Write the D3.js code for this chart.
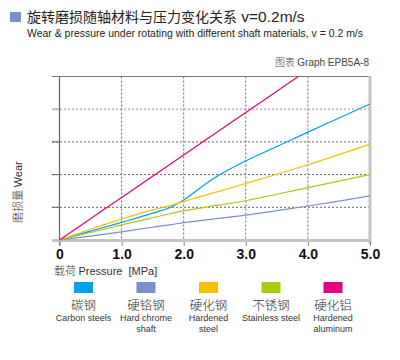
<!DOCTYPE html>
<html>
<head>
<meta charset="utf-8">
<script src="https://cdn.jsdelivr.net/npm/d3@7"></script>
<style>
  body { margin: 0; background: #fff; }
  text { font-family: Arial, "Liberation Sans", "Noto Sans CJK SC", sans-serif; }
  .cjk { font-family: "Noto Sans CJK SC", sans-serif; font-weight: 300; }
</style>
</head>
<body>
<div class="chart"></div>
<script>
// data
var pressure = [0, 0.5, 1.0, 1.5, 1.8, 2.0, 2.2, 2.5, 3.0, 3.5, 4.0, 4.5, 5.0];
var carbonSteel   = [0, 0.27, 0.54, 0.82, 1.01, 1.22, 1.50, 1.90, 2.42, 2.86, 3.30, 3.73, 4.16];
var hardChrome    = [0, 0.12, 0.25, 0.39, 0.47, 0.53, 0.58, 0.65, 0.76, 0.90, 1.04, 1.19, 1.35];
var hardenedSteel = [0, 0.33, 0.64, 0.92, 1.06, 1.18, 1.29, 1.45, 1.73, 2.01, 2.30, 2.61, 2.93];
var stainless     = [0, 0.23, 0.46, 0.68, 0.81, 0.89, 0.95, 1.05, 1.20, 1.40, 1.60, 1.80, 2.00];
var hardenedAlu   = [0, 0.65, 1.30, 1.95, 2.34, 2.60, 2.86, 3.25, 3.90, 4.55, 5.20, 5.85, 6.50];

var xTicks = [0, 1, 2, 3, 4, 5];
var xTickLabels = ["0", "1.0", "2.0", "3.0", "4.0", "5.0"];
var yTicks = [1, 2, 3, 4];

var seriesNames = ["碳钢", "硬铬钢", "硬化钢", "不锈钢", "硬化铝"];
var seriesEnglish = [["Carbon steels"], ["Hard chrome", "shaft"], ["Hardened", "steel"], ["Stainless steel"], ["Hardened", "aluminum"]];
var seriesColors = ["#00a0e9", "#7890c9", "#f8c000", "#aacc10", "#e4007f"];
var seriesValues = [carbonSteel, hardChrome, hardenedSteel, stainless, hardenedAlu];

var svg = d3.select(".chart").append("svg")
  .attr("width", 400)
  .attr("height", 360);

// titles
svg.append("rect").attr("x", 10).attr("y", 12).attr("width", 11).attr("height", 10).attr("fill", "#7b8fcc");
var title = svg.append("text").attr("x", 27).attr("y", 22).attr("fill", "#222");
title.append("tspan").attr("class", "cjk").attr("font-size", 14).style("font-weight", 400)
  .text("旋转磨损随轴材料与压力变化关系");
title.append("tspan").attr("font-size", 15.5).text(" v=0.2m/s");
svg.append("text").attr("x", 27).attr("y", 37).attr("font-size", 10.5).attr("fill", "#222")
  .attr("textLength", 336).attr("lengthAdjust", "spacingAndGlyphs")
  .text("Wear & pressure under rotating with different shaft materials, v = 0.2 m/s");
var gl = svg.append("text").attr("x", 369).attr("y", 66).attr("font-size", 10).attr("fill", "#444")
  .attr("text-anchor", "end");
gl.append("tspan").attr("class", "cjk").text("图表 ");
gl.append("tspan").text("Graph EPB5A-8");

var x = d3.scaleLinear().domain([0, 5]).range([59.5, 370]);
var y = d3.scaleLinear().domain([0, 5]).range([240, 76.5]);

var plot = svg.append("g");

// clip for lines leaving the top
svg.append("clipPath").attr("id", "clip")
  .append("rect").attr("x", 59).attr("y", 76.5).attr("width", 312).attr("height", 164);

// horizontal grid
plot.selectAll("line.hgrid").data(yTicks).enter().append("line")
  .attr("class", "hgrid")
  .attr("x1", 52).attr("x2", 370)
  .attr("y1", function(d) { return y(d); })
  .attr("y2", function(d) { return y(d); })
  .attr("stroke", function(d) { return d == 4 ? "#c4c4c4" : "#666"; })
  .attr("stroke-width", function(d) { return d == 4 ? 2 : 1; })
  .attr("stroke-dasharray", "2,2");
// little solid ticks left of axis
plot.selectAll("line.htick").data(yTicks).enter().append("line")
  .attr("x1", 52).attr("x2", 59)
  .attr("y1", function(d) { return y(d); })
  .attr("y2", function(d) { return y(d); })
  .attr("stroke", function(d) { return d == 4 ? "#c4c4c4" : "#666"; })
  .attr("stroke-width", function(d) { return d == 4 ? 2 : 1; });

// vertical grid
plot.selectAll("line.vgrid").data([1, 2, 3, 4]).enter().append("line")
  .attr("x1", function(d) { return x(d); })
  .attr("x2", function(d) { return x(d); })
  .attr("y1", 76.5).attr("y2", 240)
  .attr("stroke", "#666")
  .attr("stroke-dasharray", "2,2");

// frame
plot.append("line").attr("x1", 52).attr("x2", 370).attr("y1", 76.5).attr("y2", 76.5)
  .attr("stroke", "#777").attr("stroke-width", 1.2);
plot.append("line").attr("x1", 59.5).attr("x2", 59.5).attr("y1", 76).attr("y2", 245)
  .attr("stroke", "#666").attr("stroke-width", 1.2);
plot.append("line").attr("x1", 370).attr("x2", 370).attr("y1", 76).attr("y2", 244)
  .attr("stroke", "#c4c4c4").attr("stroke-width", 3);

// x axis
var xAxis = d3.axisBottom(x).tickValues(xTicks)
  .tickFormat(function(d, i) { return xTickLabels[i]; })
  .tickSize(5).tickPadding(3);
var gx = svg.append("g").attr("transform", "translate(0,241)").call(xAxis);
gx.select(".domain").remove();
gx.selectAll(".tick line").attr("stroke", "#888");
gx.selectAll(".tick text").attr("font-size", 14).attr("font-weight", "bold").attr("fill", "#111")
  .attr("font-family", "Arial, 'Liberation Sans', sans-serif");
svg.append("line").attr("x1", 52).attr("x2", 371).attr("y1", 240.5).attr("y2", 240.5)
  .attr("stroke", "#c4c4c4").attr("stroke-width", 3);

// lines
var line = d3.line()
  .x(function(d, i) { return x(pressure[i]); })
  .y(function(d) { return y(d); })
  .curve(d3.curveMonotoneX);

svg.append("g").attr("clip-path", "url(#clip)")
  .selectAll("path").data(seriesValues).enter().append("path")
  .attr("d", line)
  .attr("fill", "none")
  .attr("stroke", function(d, i) { return seriesColors[i]; })
  .attr("stroke-width", 1.2);

// axis labels
var yl = svg.append("text").attr("transform", "translate(22,192) rotate(-90)")
  .attr("text-anchor", "middle").attr("font-size", 11).attr("fill", "#333");
yl.append("tspan").attr("class", "cjk").text("磨损量 ");
yl.append("tspan").text("Wear");
var xl = svg.append("text").attr("x", 54).attr("y", 275).attr("font-size", 11).attr("fill", "#333")
  .style("white-space", "pre");
xl.append("tspan").attr("class", "cjk").text("载荷 ");
xl.append("tspan").text("Pressure  [MPa]");

// legend
var legendX = [83.5, 146, 208.5, 271, 333];
var lg = svg.selectAll("g.legend").data(seriesNames).enter().append("g")
  .attr("class", "legend")
  .attr("transform", function(d, i) { return "translate(" + legendX[i] + ",0)"; });
lg.append("rect").attr("x", -9.5).attr("y", 282).attr("width", 19).attr("height", 11)
  .attr("fill", function(d, i) { return seriesColors[i]; });
lg.append("text").attr("class", "cjk").attr("y", 310).attr("text-anchor", "middle")
  .attr("font-size", 12.5).attr("fill", "#333")
  .text(function(d) { return d; });
lg.each(function(d, i) {
  var g = d3.select(this);
  seriesEnglish[i].forEach(function(t, k) {
    g.append("text").attr("y", 321 + k * 11).attr("text-anchor", "middle")
      .attr("font-size", 9).attr("fill", "#333").text(t);
  });
});
</script>
</body>
</html>
